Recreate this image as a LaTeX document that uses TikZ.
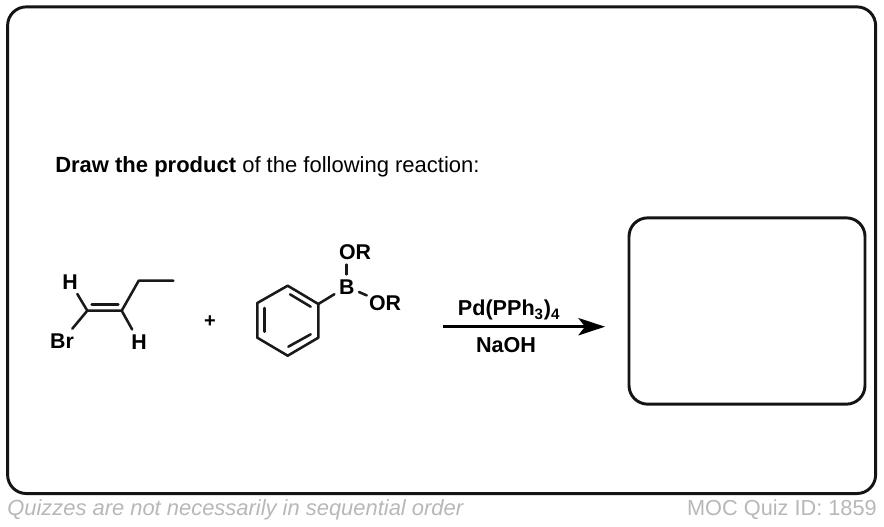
\documentclass[tikz,border=0pt]{standalone}
\usepackage{fontspec}
\setmainfont{Liberation Sans}
\usetikzlibrary{arrows.meta}
\tikzset{
  x=0.75pt,y=-0.75pt,
  bond/.style={line width=1.9pt,line cap=round,line join=round,black!90},
  atom/.style={font=\fontsize{16}{18}\bfseries\selectfont,inner sep=0pt,text height=11.5pt,text depth=0pt,minimum height=18pt,minimum width=18pt},
  panel/.style={draw=black!92,line width=2.2pt,rounded corners=14pt,fill=white},
  foot/.style={text=black!28,inner sep=0pt},
  cond/.style={font=\fontsize{16.2}{18}\bfseries\selectfont,inner sep=0pt},
  rxn/.style={line width=2.2pt,-{Stealth[length=20pt,width=13pt,inset=5pt]}},
}
\begin{document}
\begin{tikzpicture}
\useasboundingbox (0,0) rectangle (884,526);
\fill[white] (0,0) rectangle (884,526);
\node[panel,minimum width=651pt,minimum height=365pt] (outer) at (441.6,250.2) {};
\node[panel,minimum width=177pt,minimum height=139.7pt] (answer) at (747,311) {};
\node[anchor=west,inner sep=0pt,font=\fontsize{16.5}{18}\selectfont] (prompt) at (55,167) {\textbf{Draw the product} of the following reaction:};
% alkene
\coordinate (c1) at (87.3,310.7);
\coordinate (c2) at (121.7,310.7);
\coordinate (c3) at (138.7,280.7);
\coordinate (c4) at (173.3,280.7);
\coordinate (d1) at (91.7,304.3);
\coordinate (d2) at (118.3,304.3);
\node[atom] (h1) at (70,281.7) {H};
\node[atom] (br) at (62,341) {Br};
\node[atom] (h2) at (139,341.7) {H};
\draw[bond] (c1) -- (c2) -- (c3) -- (c4);
\draw[bond] (d1) -- (d2);
\draw[bond] (h1) -- (c1);
\draw[bond] (br) -- (c1);
\draw[bond] (h2) -- (c2);
\node[font=\fontsize{15}{16}\bfseries\selectfont,inner sep=0pt] (plus) at (210,322) {+};
% boronate
\coordinate (r1) at (287.7,285.7);
\coordinate (r2) at (318.3,304);
\coordinate (r3) at (318.3,337.7);
\coordinate (r4) at (287.7,355.7);
\coordinate (r5) at (257.3,337.7);
\coordinate (r6) at (257.3,303);
\coordinate (i1) at (264.3,308);
\coordinate (i2) at (264.3,331.7);
\coordinate (i3) at (290,294.3);
\coordinate (i4) at (310.7,306.7);
\coordinate (i5) at (288.3,346.7);
\coordinate (i6) at (310.7,334.3);
\draw[bond] (r1) -- (r2) -- (r3) -- (r4) -- (r5) -- (r6) -- cycle;
\draw[bond] (i1) -- (i2);
\draw[bond] (i3) -- (i4);
\draw[bond] (i5) -- (i6);
\node[atom] (b) at (346.7,286.7) {B};
\node[atom,minimum width=24pt] (or1) at (355,252.3) {OR};
\node[atom,minimum width=27pt] (or2) at (385,303.3) {OR};
\draw[bond] (r2) -- (b);
\draw[bond] (b) -- (b |- or1.south);
\draw[bond] (b) -- (or2);
% arrow
\node[cond] (pd) at (509,310) {Pd(PPh\textsubscript{3})\textsubscript{4}};
\node[cond] (naoh) at (506,345) {NaOH};
\coordinate (a1) at (443,326.7);
\coordinate (a2) at (605,326.7);
\draw[rxn] (a1) -- (a2);
% footer
\node[foot,anchor=west,font=\fontsize{16.45}{18}\selectfont] (q) at (7,510) {\itshape Quizzes are not necessarily in sequential order};
\node[foot,anchor=east,font=\fontsize{16.3}{18}\selectfont] (id) at (877,510) {MOC Quiz ID: 1859};
\end{tikzpicture}
\end{document}
